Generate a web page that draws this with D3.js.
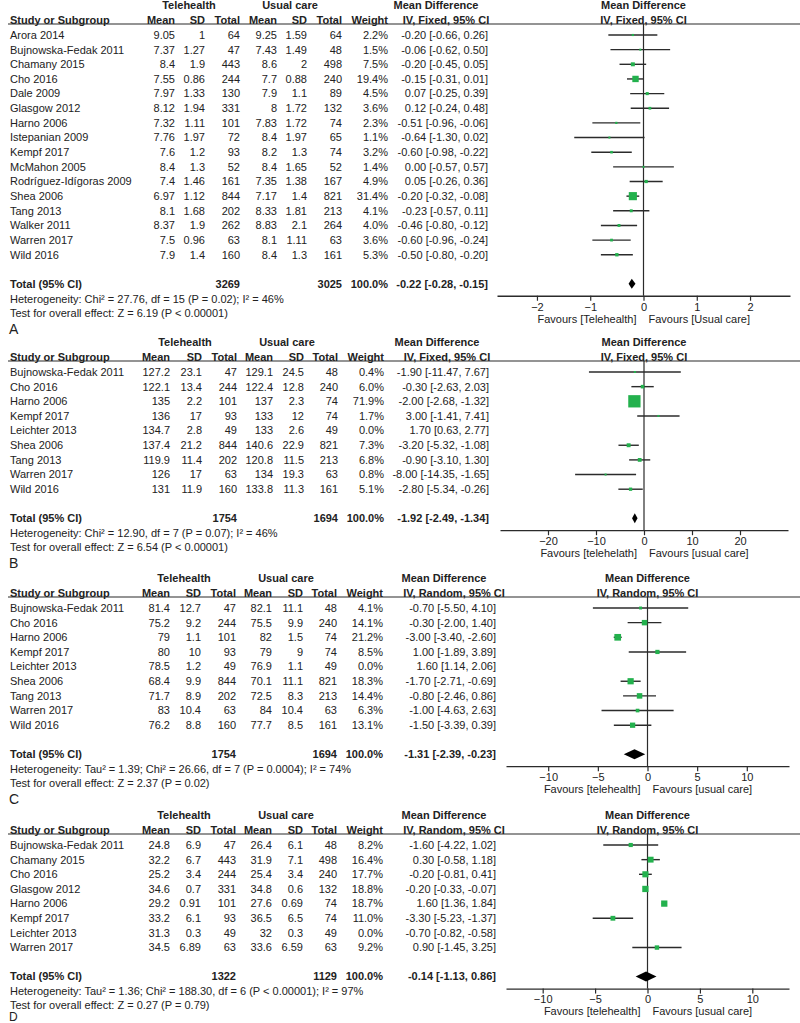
<!DOCTYPE html>
<html><head><meta charset="utf-8">
<script src="https://cdn.jsdelivr.net/npm/d3@7"></script>
<style>
body{margin:0;background:#fff;}
text{font-family:'Liberation Sans',Arial,sans-serif;font-size:11px;fill:#222;}
.b{font-weight:bold;}
</style></head><body>
<svg id="c" width="800" height="1023"></svg>
<script>
// ---- DATA ----
// row: [study, teleMean, teleSD, teleN, ucMean, ucSD, ucN, weight%, MD, lo, hi]
const rowsA = [
 ["Arora 2014",9.05,1,64,9.25,1.59,64,2.2,-0.20,-0.66,0.26],
 ["Bujnowska-Fedak 2011",7.37,1.27,47,7.43,1.49,48,1.5,-0.06,-0.62,0.50],
 ["Chamany 2015",8.4,1.9,443,8.6,2,498,7.5,-0.20,-0.45,0.05],
 ["Cho 2016",7.55,0.86,244,7.7,0.88,240,19.4,-0.15,-0.31,0.01],
 ["Dale 2009",7.97,1.33,130,7.9,1.1,89,4.5,0.07,-0.25,0.39],
 ["Glasgow 2012",8.12,1.94,331,8,1.72,132,3.6,0.12,-0.24,0.48],
 ["Harno 2006",7.32,1.11,101,7.83,1.72,74,2.3,-0.51,-0.96,-0.06],
 ["Istepanian 2009",7.76,1.97,72,8.4,1.97,65,1.1,-0.64,-1.30,0.02],
 ["Kempf 2017",7.6,1.2,93,8.2,1.3,74,3.2,-0.60,-0.98,-0.22],
 ["McMahon 2005",8.4,1.3,52,8.4,1.65,52,1.4,0.00,-0.57,0.57],
 ["Rodríguez-Idígoras 2009",7.4,1.46,161,7.35,1.38,167,4.9,0.05,-0.26,0.36],
 ["Shea 2006",6.97,1.12,844,7.17,1.4,821,31.4,-0.20,-0.32,-0.08],
 ["Tang 2013",8.1,1.68,202,8.33,1.81,213,4.1,-0.23,-0.57,0.11],
 ["Walker 2011",8.37,1.9,262,8.83,2.1,264,4.0,-0.46,-0.80,-0.12],
 ["Warren 2017",7.5,0.96,63,8.1,1.11,63,3.6,-0.60,-0.96,-0.24],
 ["Wild 2016",7.9,1.4,160,8.4,1.3,161,5.3,-0.50,-0.80,-0.20]
];
const rowsB = [
 ["Bujnowska-Fedak 2011",127.2,23.1,47,129.1,24.5,48,0.4,-1.90,-11.47,7.67],
 ["Cho 2016",122.1,13.4,244,122.4,12.8,240,6.0,-0.30,-2.63,2.03],
 ["Harno 2006",135,2.2,101,137,2.3,74,71.9,-2.00,-2.68,-1.32],
 ["Kempf 2017",136,17,93,133,12,74,1.7,3.00,-1.41,7.41],
 ["Leichter 2013",134.7,2.8,49,133,2.6,49,0.0,1.70,0.63,2.77],
 ["Shea 2006",137.4,21.2,844,140.6,22.9,821,7.3,-3.20,-5.32,-1.08],
 ["Tang 2013",119.9,11.4,202,120.8,11.5,213,6.8,-0.90,-3.10,1.30],
 ["Warren 2017",126,17,63,134,19.3,63,0.8,-8.00,-14.35,-1.65],
 ["Wild 2016",131,11.9,160,133.8,11.3,161,5.1,-2.80,-5.34,-0.26]
];
const rowsC = [
 ["Bujnowska-Fedak 2011",81.4,12.7,47,82.1,11.1,48,4.1,-0.70,-5.50,4.10],
 ["Cho 2016",75.2,9.2,244,75.5,9.9,240,14.1,-0.30,-2.00,1.40],
 ["Harno 2006",79,1.1,101,82,1.5,74,21.2,-3.00,-3.40,-2.60],
 ["Kempf 2017",80,10,93,79,9,74,8.5,1.00,-1.89,3.89],
 ["Leichter 2013",78.5,1.2,49,76.9,1.1,49,0.0,1.60,1.14,2.06],
 ["Shea 2006",68.4,9.9,844,70.1,11.1,821,18.3,-1.70,-2.71,-0.69],
 ["Tang 2013",71.7,8.9,202,72.5,8.3,213,14.4,-0.80,-2.46,0.86],
 ["Warren 2017",83,10.4,63,84,10.4,63,6.3,-1.00,-4.63,2.63],
 ["Wild 2016",76.2,8.8,160,77.7,8.5,161,13.1,-1.50,-3.39,0.39]
];
const rowsD = [
 ["Bujnowska-Fedak 2011",24.8,6.9,47,26.4,6.1,48,8.2,-1.60,-4.22,1.02],
 ["Chamany 2015",32.2,6.7,443,31.9,7.1,498,16.4,0.30,-0.58,1.18],
 ["Cho 2016",25.2,3.4,244,25.4,3.4,240,17.7,-0.20,-0.81,0.41],
 ["Glasgow 2012",34.6,0.7,331,34.8,0.6,132,18.8,-0.20,-0.33,-0.07],
 ["Harno 2006",29.2,0.91,101,27.6,0.69,74,18.7,1.60,1.36,1.84],
 ["Kempf 2017",33.2,6.1,93,36.5,6.5,74,11.0,-3.30,-5.23,-1.37],
 ["Leichter 2013",31.3,0.3,49,32,0.3,49,0.0,-0.70,-0.82,-0.58],
 ["Warren 2017",34.5,6.89,63,33.6,6.59,63,9.2,0.90,-1.45,3.25]
];
// totals: [teleN, ucN, MD, lo, hi]
const totalA = [3269,3025,-0.22,-0.28,-0.15];
const totalB = [1754,1694,-1.92,-2.49,-1.34];
const totalC = [1754,1694,-1.31,-2.39,-0.23];
const totalD = [1322,1129,-0.14,-1.13,0.86];
const hetText = [
 "Heterogeneity: Chi² = 27.76, df = 15 (P = 0.02); I² = 46%",
 "Heterogeneity: Chi² = 12.90, df = 7 (P = 0.07); I² = 46%",
 "Heterogeneity: Tau² = 1.39; Chi² = 26.66, df = 7 (P = 0.0004); I² = 74%",
 "Heterogeneity: Tau² = 1.36; Chi² = 188.30, df = 6 (P < 0.00001); I² = 97%"
];
const effectText = [
 "Test for overall effect: Z = 6.19 (P < 0.00001)",
 "Test for overall effect: Z = 6.54 (P < 0.00001)",
 "Test for overall effect: Z = 2.37 (P = 0.02)",
 "Test for overall effect: Z = 0.27 (P = 0.79)"
];
const methods = ["IV, Fixed, 95% CI","IV, Fixed, 95% CI","IV, Random, 95% CI","IV, Random, 95% CI"];
const favours = [
 ["Favours [Telehealth]","Favours [Usual care]"],
 ["Favours [telehelath]","Favours [usual care]"],
 ["Favours [telehealth]","Favours [usual care]"],
 ["Favours [telehealth]","Favours [usual care]"]
];
const ticksA = [-2,-1,0,1,2];
const ticksB = [-20,-10,0,10,20];
const ticksC = [-10,-5,0,5,10];
const ticksD = [-10,-5,0,5,10];
const domains = [[-2.75,2.75],[-30,30],[-14.25,14.25],[-13.5,13.5]];
const labels = ["A","B","C","D"];

// ---- LAYOUT ----
const panels = [
 {rows:rowsA,total:totalA,ticks:ticksA,top:5,cols:[175,205,240,277,307,342,388],mdR:488,teleX:189,ucX:290,range:[497,790]},
 {rows:rowsB,total:totalB,ticks:ticksB,top:342,cols:[170,202,237,273,304,338,384],mdR:489,teleX:185,ucX:287,range:[500,788]},
 {rows:rowsC,total:totalC,ticks:ticksC,top:578,cols:[170,201,236,272,303,337,383],mdR:496,teleX:184,ucX:286,range:[506,789]},
 {rows:rowsD,total:totalD,ticks:ticksD,top:815,cols:[170,201,236,272,303,337,383],mdR:496,teleX:184,ucX:286,range:[506,789]}
];
const svg = d3.select("#c");
const step = 14.65;
const green = "#23b14d", dark = "#2b2b2b";

panels.forEach((p,pi)=>{
  const g = svg.append("g");
  const T = p.top;
  const txt = (x,y,s,anchor,bold)=> g.append("text").attr("x",x).attr("y",y).attr("dy","0.35em")
      .attr("text-anchor",anchor||"start").attr("class",bold?"b":null).text(s);
  const x = d3.scaleLinear().domain(domains[pi]).range(p.range);
  const plotC = (p.range[0]+p.range[1])/2;
  // headers
  txt(p.teleX,T,"Telehealth","middle",true);
  txt(p.ucX,T,"Usual care","middle",true);
  txt(p.mdR-52,T,"Mean Difference","middle",true);
  txt(plotC,T,"Mean Difference","middle",true);
  const h2 = T+15;
  txt(10,h2,"Study or Subgroup","start",true);
  ["Mean","SD","Total","Mean","SD","Total","Weight"].forEach((h,i)=>txt(p.cols[i],h2,h,"end",true));
  txt(p.mdR-42,h2,methods[pi],"middle",true);
  txt(plotC,h2,methods[pi],"middle",true);
  const lineY = T+19;
  g.append("line").attr("x1",8).attr("x2",800).attr("y1",lineY).attr("y2",lineY)
    .attr("stroke",dark).attr("stroke-width",1.2);
  // rows
  const y0 = T+30;
  p.rows.forEach((r,i)=>{
    const y = y0+i*step;
    txt(10,y,r[0]);
    for(let k=1;k<=6;k++) txt(p.cols[k-1],y,String(r[k]),"end");
    txt(p.cols[6],y,r[7].toFixed(1)+"%","end");
    txt(p.mdR,y,r[8].toFixed(2)+" ["+r[9].toFixed(2)+", "+r[10].toFixed(2)+"]","end");
  });
  const nRows = p.rows.length;
  const totY = y0+(nRows-1)*step+29;
  const axisY = totY+12;
  // zero line
  g.append("line").attr("x1",x(0)).attr("x2",x(0)).attr("y1",lineY).attr("y2",axisY)
    .attr("stroke",dark).attr("stroke-width",1.2);
  // CIs and squares
  p.rows.forEach((r,i)=>{
    if(r[7]<=0) return;
    const y = y0+i*step;
    g.append("line").attr("x1",x(r[9])).attr("x2",x(r[10])).attr("y1",y).attr("y2",y)
      .attr("stroke",dark).attr("stroke-width",1.4);
    const s = Math.max(2,1.45*Math.sqrt(r[7]));
    g.append("rect").attr("x",x(r[8])-s/2).attr("y",y-s/2).attr("width",s).attr("height",s).attr("fill",green);
  });
  // total row
  const t = p.total;
  txt(10,totY,"Total (95% CI)","start",true);
  txt(p.cols[2],totY,String(t[0]),"end",true);
  txt(p.cols[5],totY,String(t[1]),"end",true);
  txt(p.cols[6],totY,"100.0%","end",true);
  txt(p.mdR,totY,t[2].toFixed(2)+" ["+t[3].toFixed(2)+", "+t[4].toFixed(2)+"]","end",true);
  const dh = 5;
  g.append("path").attr("d",`M${x(t[3])},${totY}L${x(t[2])},${totY-dh}L${x(t[4])},${totY}L${x(t[2])},${totY+dh}Z`)
    .attr("fill","#000");
  txt(10,totY+15,hetText[pi]);
  txt(10,totY+29,effectText[pi]);
  const last = pi===3;
  g.append("text").attr("x",9).attr("y",last?1016.5:totY+45).attr("dy","0.35em")
    .style("font-size",last?"12px":"14px").text(labels[pi]);
  // axis
  const ax = g.append("g").attr("transform",`translate(0,${axisY})`)
    .call(d3.axisBottom(x).tickValues(p.ticks).tickSize(5).tickSizeOuter(0).tickPadding(2).tickFormat(d3.format("d")));
  ax.select(".domain").attr("stroke",dark).attr("stroke-width",1.3);
  ax.selectAll(".tick line").attr("stroke",dark).attr("stroke-width",1.2);
  ax.selectAll(".tick text").attr("fill","#222").style("font-size","11px").style("font-family","'Liberation Sans',Arial,sans-serif");
  txt(x(0)-7,axisY+23,favours[pi][0],"end");
  txt(x(0)+5,axisY+23,favours[pi][1],"start");
});
</script>
</body></html>
